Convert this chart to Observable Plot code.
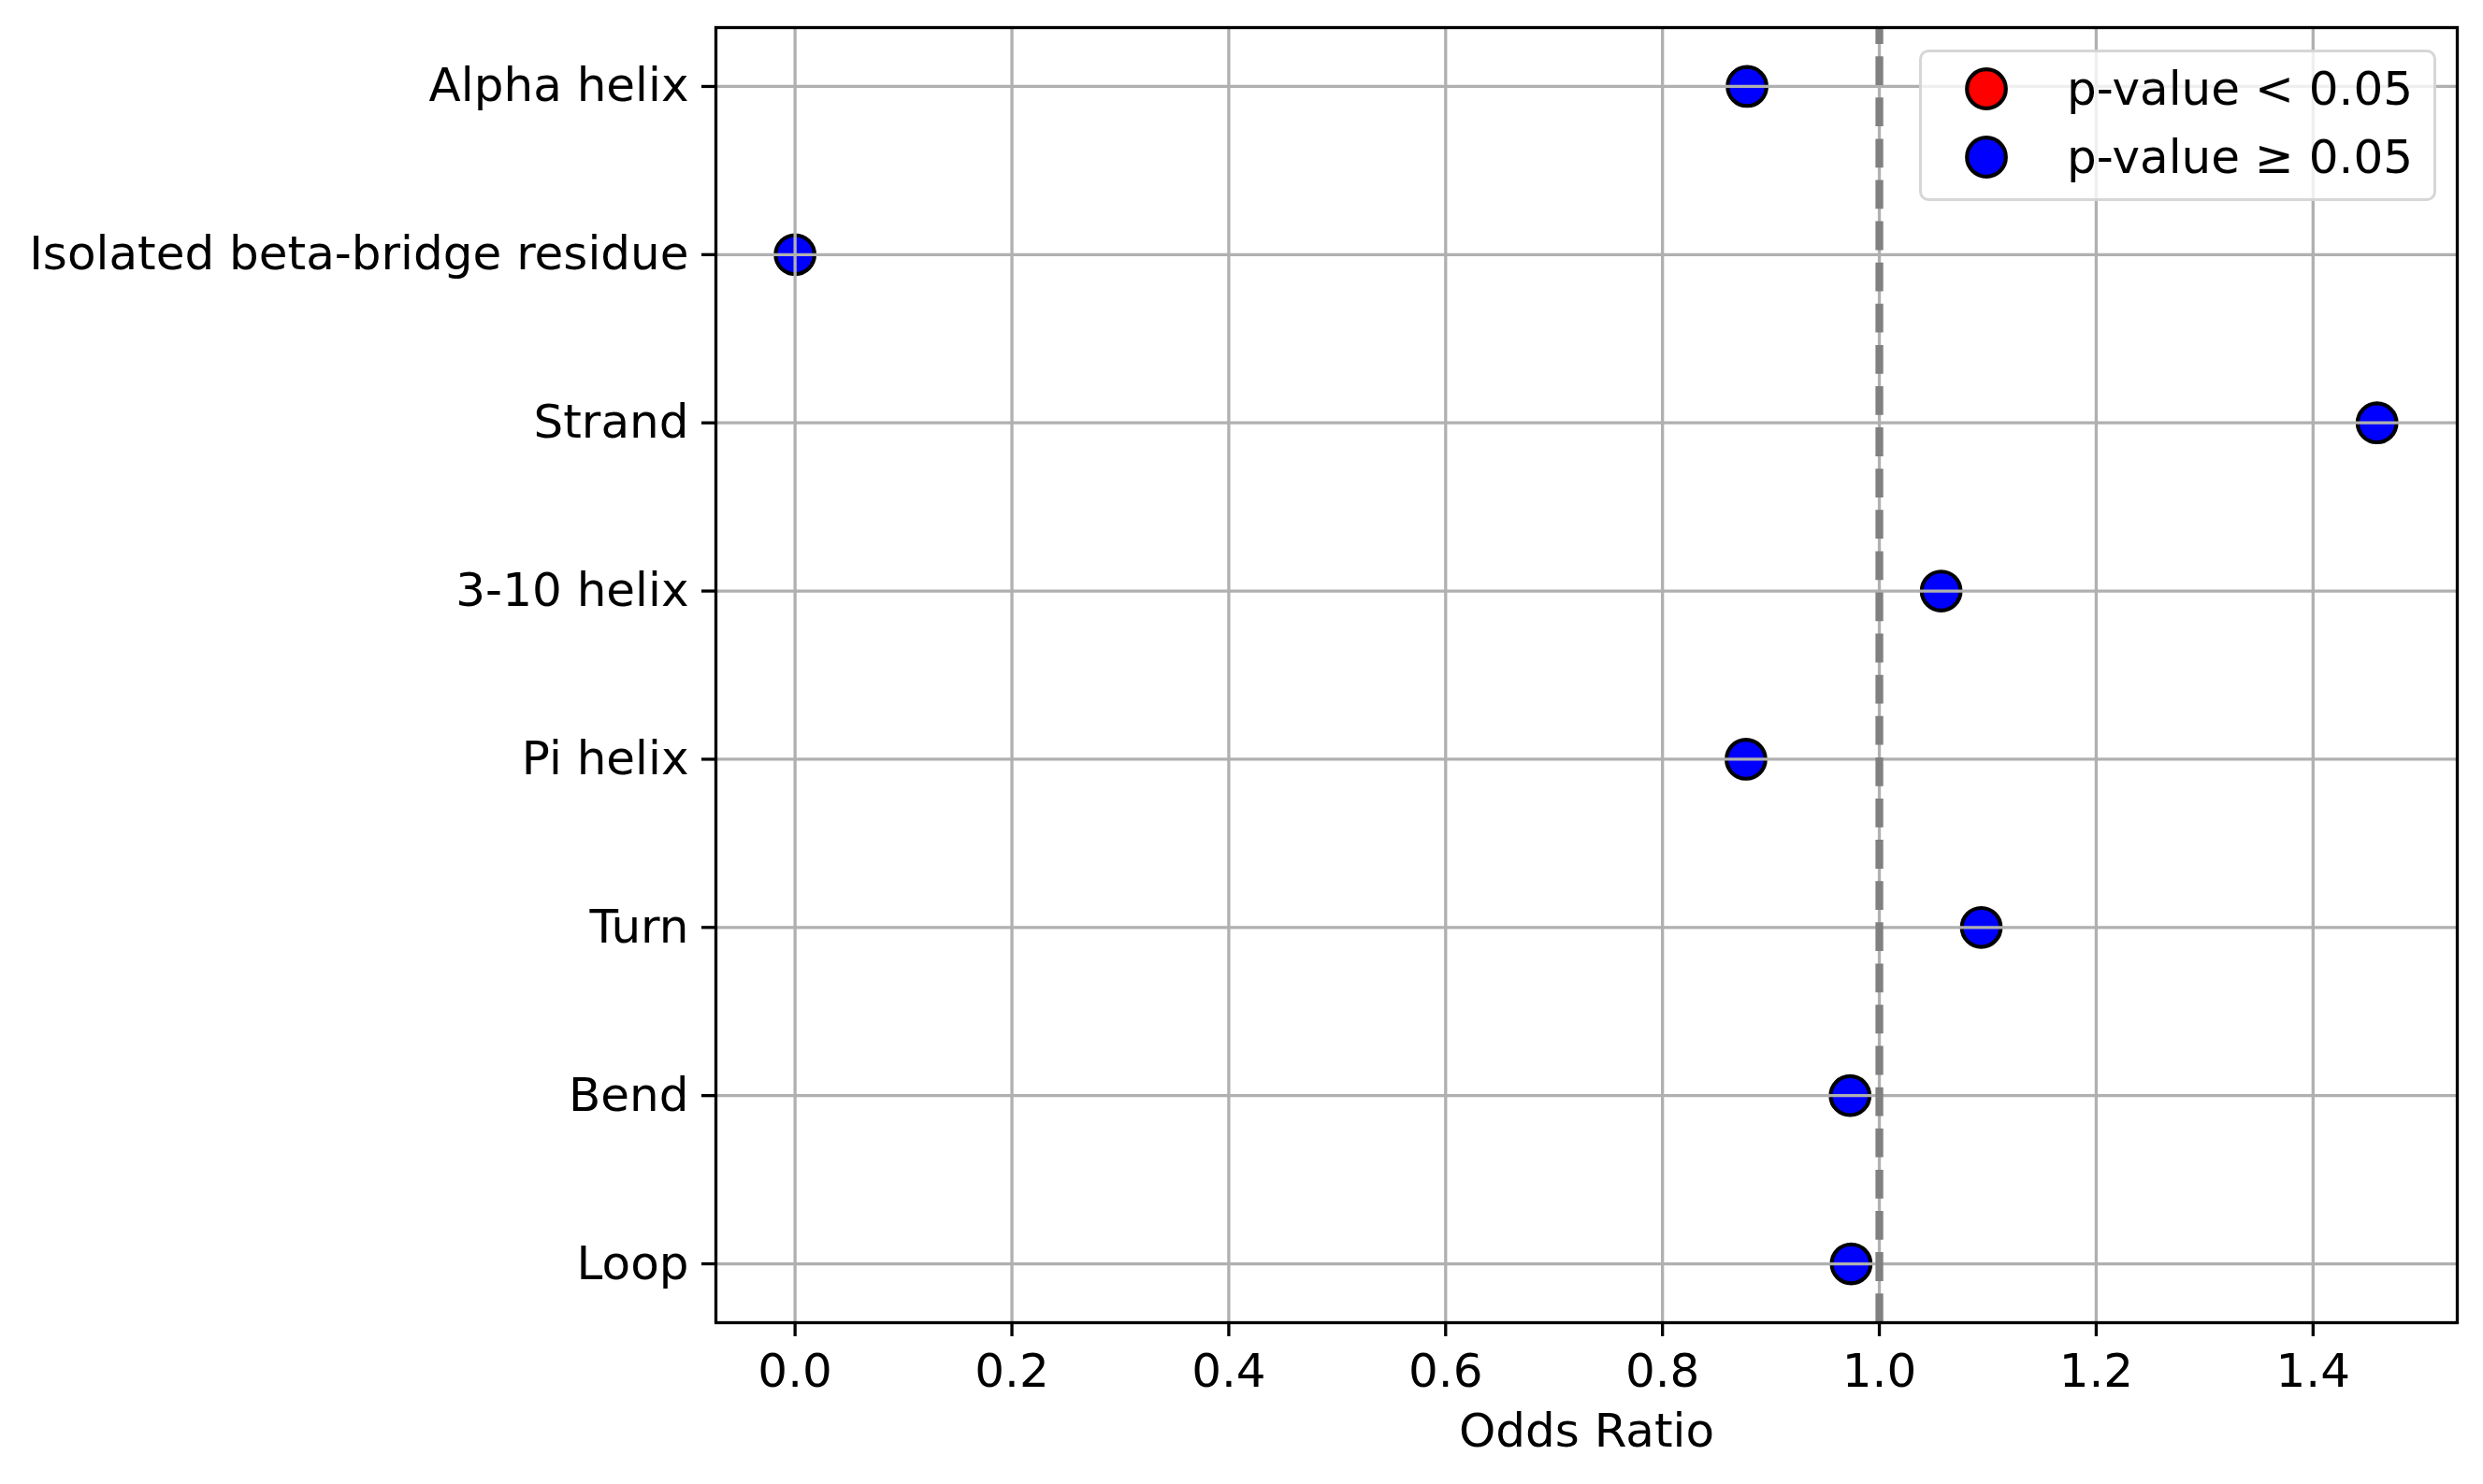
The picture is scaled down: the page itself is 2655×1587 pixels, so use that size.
<!DOCTYPE html>
<html>
<head>
<meta charset="utf-8">
<script src="https://cdn.jsdelivr.net/npm/d3@7"></script>
<script src="https://cdn.jsdelivr.net/npm/@observablehq/plot@0.6"></script>
<style>
  html, body { margin: 0; padding: 0; background: #fff; }
  #wrap { position: relative; width: 2655px; height: 1587px; font-family: "DejaVu Sans", sans-serif; }
  #legend {
    position: absolute; left: 2052px; top: 53px; width: 553px; height: 162px;
    box-sizing: border-box; border: 3.3px solid rgba(204,204,204,0.8); border-radius: 10px;
    background: rgba(255,255,255,0.8);
  }
  .lg-item { position: absolute; left: 0; width: 100%; height: 50px; }
  .lg-item svg { position: absolute; left: 44px; top: 0; overflow: visible; }
  .lg-item span { position: absolute; left: 155px; top: 0; font-size: 50px; line-height: 50px; color: #000; white-space: nowrap; }
</style>
</head>
<body>
<div id="wrap"></div>
<script>
// ---- data ----
const categories = ["Alpha helix", "Isolated beta-bridge residue", "Strand", "3-10 helix", "Pi helix", "Turn", "Bend", "Loop"];
const oddsRatio = [0.878, 0.0, 1.459, 1.057, 0.877, 1.094, 0.973, 0.974];
const significant = [false, false, false, false, false, false, false, false];
const xTicks = [0.0, 0.2, 0.4, 0.6, 0.8, 1.0, 1.2, 1.4];
const legendLabels = ["p-value < 0.05", "p-value \u2265 0.05"];
const legendColors = ["red", "blue"];
const referenceLine = [1.0];

const data = categories.map((c, i) => ({
  category: c,
  or: oddsRatio[i],
  group: significant[i] ? legendLabels[0] : legendLabels[1]
}));

const chart = Plot.plot({
  width: 2655,
  height: 1587,
  marginLeft: 765,
  marginRight: 28,
  marginTop: 29,
  marginBottom: 173,
  style: { fontFamily: "DejaVu Sans, sans-serif", fontSize: "50px", color: "#000", background: "#fff" },
  x: { domain: [-0.073, 1.533] },
  y: { type: "point", domain: categories, padding: 0.35, round: false },
  color: { domain: legendLabels, range: legendColors },
  marks: [
    Plot.dot(data, { x: "or", y: "category", r: 20.8, fill: "group", stroke: "black", strokeWidth: 4.2 }),
    Plot.gridX(xTicks, { stroke: "#b0b0b0", strokeOpacity: 1, strokeWidth: 3.3 }),
    Plot.gridY(categories, { stroke: "#b0b0b0", strokeOpacity: 1, strokeWidth: 3.3 }),
    Plot.ruleX(referenceLine, { stroke: "#808080", strokeWidth: 8.3, strokeDasharray: "30.8,13.3", strokeDashoffset: 12.9 }),
    Plot.frame({ stroke: "black", strokeWidth: 3.3 }),
    Plot.axisX(xTicks, {
      tickFormat: ".1f", tickSize: 15, tickPadding: 18, strokeWidth: 3.3,
      label: "Odds Ratio", labelAnchor: "center", labelArrow: "none", labelOffset: 132
    }),
    Plot.axisY(categories, { tickSize: 15, tickPadding: 14, strokeWidth: 3.3, label: null })
  ]
});

const wrap = document.getElementById("wrap");
wrap.appendChild(chart);

// legend (drawn from the same label/colour arrays)
const legend = document.createElement("div");
legend.id = "legend";
legendLabels.forEach((lab, i) => {
  const item = document.createElement("div");
  item.className = "lg-item";
  item.style.top = (i === 0 ? 14 : 87) + "px";
  const ns = "http://www.w3.org/2000/svg";
  const svg = document.createElementNS(ns, "svg");
  svg.setAttribute("width", 50);
  svg.setAttribute("height", 50);
  const c = document.createElementNS(ns, "circle");
  c.setAttribute("cx", 25);
  c.setAttribute("cy", 25);
  c.setAttribute("r", 20.8);
  c.setAttribute("fill", legendColors[i]);
  c.setAttribute("stroke", "black");
  c.setAttribute("stroke-width", 4.2);
  svg.appendChild(c);
  const span = document.createElement("span");
  span.textContent = lab;
  item.appendChild(svg);
  item.appendChild(span);
  legend.appendChild(item);
});
wrap.appendChild(legend);
</script>
</body>
</html>
